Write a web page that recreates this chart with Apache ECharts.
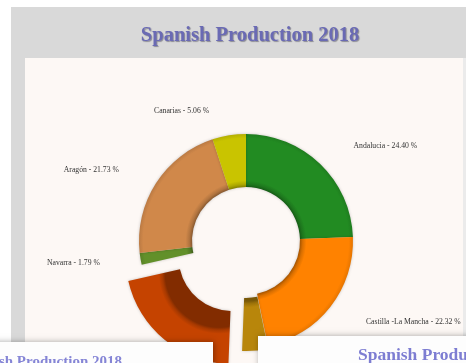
<!DOCTYPE html>
<html>
<head>
<meta charset="utf-8">
<script src="https://cdn.jsdelivr.net/npm/echarts@6/dist/echarts.min.js"></script>
<style>
  html, body { margin: 0; padding: 0; background: #ffffff; }
  #chart { width: 466px; height: 363px; }
</style>
</head>
<body>
<div id="chart"></div>
<script>
// Regional shares of production, clockwise from the top
const regions = ['Andalucia', 'Castilla -La Mancha', 'Cataluña', 'Castilla y León', 'Navarra', 'Aragón', 'Canarias'];
const shares = [24.40, 22.32, 3.90, 20.80, 1.79, 21.73, 5.06];
const sliceColors = ['#228b22', '#ff8200', '#b8860b', '#c54300', '#62902a', '#d0884a', '#c9c400'];
// how far each slice is pulled out of the ring (px)
const pullOut = [0, 0, 3, 21, 0, 0, 0];

const titleText = 'Spanish Production 2018';

const CX = 246, CY = 241, R_IN = 54, R_OUT = 107;

function shade(hex, f) {
  const n = parseInt(hex.slice(1), 16);
  const r = Math.round(((n >> 16) & 255) * f);
  const g = Math.round(((n >> 8) & 255) * f);
  const b = Math.round((n & 255) * f);
  return 'rgb(' + r + ',' + g + ',' + b + ')';
}

const total = shares.reduce((a, b) => a + b, 0);
// mid angle of each slice (clockwise from 12 o'clock), used to shift the shading of pulled-out slices
let acc = 0;
const midAngles = shares.map(v => { const a = (acc + v / 2) / total * 2 * Math.PI; acc += v; return a; });

function ringGradient(i) {
  const a = midAngles[i];
  const ox = Math.sin(a) * pullOut[i];
  const oy = -Math.cos(a) * pullOut[i];
  const c = sliceColors[i];
  const k = R_IN / R_OUT;
  return {
    type: 'radial', x: CX + ox, y: CY + oy, r: R_OUT, global: true,
    colorStops: [
      { offset: 0, color: shade(c, 0.66) },
      { offset: k, color: shade(c, 0.66) },
      { offset: k + 0.025, color: shade(c, 0.85) },
      { offset: k + 0.06, color: c },
      { offset: 0.96, color: c },
      { offset: 1, color: shade(c, 0.9) }
    ]
  };
}

// split slices into layers by pull-out distance so each layer gets its own selectedOffset
const offsets = Array.from(new Set(pullOut));
const series = offsets.map(off => ({
  type: 'pie',
  silent: true,
  center: [CX, CY],
  radius: [R_IN, R_OUT],
  startAngle: 90,
  clockwise: true,
  avoidLabelOverlap: false,
  selectedMode: 'multiple',
  selectedOffset: off,
  select: { itemStyle: { borderWidth: 0 } },
  label: {
    show: true,
    position: 'outside',
    fontFamily: 'Liberation Serif',
    fontSize: 7.7,
    color: '#333333',
    distanceToLabelLine: 5,
    formatter: p => p.name + ' - ' + shares[p.dataIndex].toFixed(2) + ' %'
  },
  labelLine: { show: false, length: 25, length2: 11 },
  data: regions.map((name, i) => {
    const mine = pullOut[i] === off;
    return {
      name: name,
      value: shares[i],
      selected: mine && off > 0,
      itemStyle: mine ? { color: ringGradient(i), shadowBlur: 3, shadowColor: 'rgba(0,0,0,0.22)' } : { color: 'rgba(0,0,0,0)' },
      label: { show: mine }
    };
  })
}));

const cardStyle = { fill: '#fdfdfd', shadowBlur: 6, shadowColor: 'rgba(0,0,0,0.35)', shadowOffsetX: 1 };

const chart = echarts.init(document.getElementById('chart'), null, { renderer: 'canvas' });
chart.setOption({
  animation: false,
  backgroundColor: '#ffffff',
  title: {
    text: titleText,
    left: 245,
    top: 20,
    textAlign: 'center',
    textStyle: {
      fontFamily: 'Liberation Serif',
      fontWeight: 'bold',
      fontSize: 20.5,
      color: '#6a6ab4',
      textShadowColor: 'rgba(40,40,60,0.45)',
      textShadowBlur: 1,
      textShadowOffsetX: 1,
      textShadowOffsetY: 1
    }
  },
  graphic: [
    // page frame and plot panel
    { type: 'rect', z: -10, shape: { x: 11, y: 7, width: 460, height: 360 }, style: { fill: '#d9d9d9' } },
    { type: 'rect', z: -9, shape: { x: 463, y: 58, width: 5, height: 310 }, style: { fill: '#ebebeb' } },
    { type: 'rect', z: -8, shape: { x: 25, y: 58, width: 438, height: 310 }, style: { fill: '#fdf8f5' } },
    // overlapping cards at the bottom
    { type: 'rect', z: 100, shape: { x: -10, y: 342, width: 223, height: 40 }, style: cardStyle },
    { type: 'text', z: 101, style: { text: titleText, x: 122, y: 355, align: 'right', verticalAlign: 'top',
      font: 'bold 15px "Liberation Serif"', fill: '#8585d6' } },
    { type: 'rect', z: 100, shape: { x: 258, y: 336, width: 220, height: 40 }, style: cardStyle },
    { type: 'text', z: 101, style: { text: titleText, x: 358, y: 346, align: 'left', verticalAlign: 'top',
      font: 'bold 17.5px "Liberation Serif"', fill: '#7d7dd2' } }
  ],
  series: series
});
</script>
</body>
</html>
